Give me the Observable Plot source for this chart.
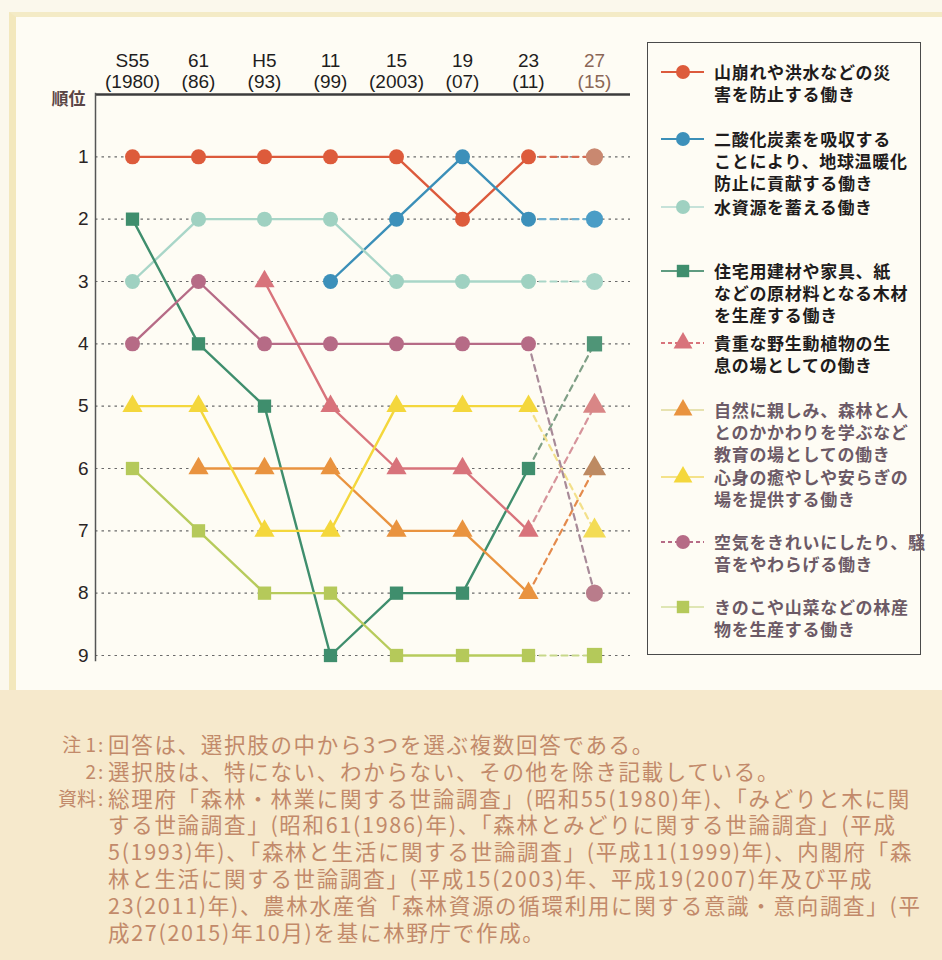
<!DOCTYPE html>
<html><head><meta charset="utf-8">
<script src="https://cdn.jsdelivr.net/npm/d3@7"></script>
<script src="https://cdn.jsdelivr.net/npm/@observablehq/plot@0.6"></script>
<style>
html,body{margin:0;padding:0;}
body{width:942px;height:960px;overflow:hidden;position:relative;background:#fbf8ec;font-family:"Noto Sans CJK JP",sans-serif;}
#panel{position:absolute;left:9px;top:12px;width:940px;height:678px;background:#fefcf4;border-left:7px solid #f3e8bd;border-top:5px solid #f4ebc6;box-sizing:border-box;}
#bottom{position:absolute;left:0;top:690px;width:942px;height:270px;background:#f6e9cc;}
#chart{position:absolute;left:0;top:0;}
#legend{position:absolute;left:647px;top:42px;width:274px;height:613px;border:1.6px solid #4a4a4a;box-sizing:border-box;}
.item{position:absolute;left:0;width:270px;}
.item svg{position:absolute;left:10px;top:0;}
.item .txt{position:absolute;left:66px;top:0;font-size:17px;font-weight:700;line-height:22px;white-space:pre;letter-spacing:0.7px;}
#notes{position:absolute;left:0;top:731px;width:942px;color:#c28a6a;font-size:21.5px;line-height:26.8px;white-space:nowrap;}
.row{position:relative;height:26.8px;line-height:26.8px;}
.lab{position:absolute;left:58px;width:38px;text-align:right;font-size:19px;}
.col{position:absolute;left:98px;font-size:19px;}
.body{position:absolute;left:108px;letter-spacing:1.7px;}
</style>
</head><body>
<div id="panel"></div>
<div id="bottom"></div>
<div id="chart"></div>
<div id="legend"></div>
<div id="notes"></div>
<script>
// ---- data ----
const yearTop = ["S55","61","H5","11","15","19","23","27"];
const yearBottom = ["(1980)","(86)","(93)","(99)","(2003)","(07)","(11)","(15)"];
const ranks = [1,2,3,4,5,6,7,8,9];

const seriesKeys = ["disaster","co2","water","timber","wildlife","education","healing","air","products"];
const seriesLabels = [
  "山崩れや洪水などの災\n害を防止する働き",
  "二酸化炭素を吸収する\nことにより、地球温暖化\n防止に貢献する働き",
  "水資源を蓄える働き",
  "住宅用建材や家具、紙\nなどの原材料となる木材\nを生産する働き",
  "貴重な野生動植物の生\n息の場としての働き",
  "自然に親しみ、森林と人\nとのかかわりを学ぶなど\n教育の場としての働き",
  "心身の癒やしや安らぎの\n場を提供する働き",
  "空気をきれいにしたり、騒\n音をやわらげる働き",
  "きのこや山菜などの林産\n物を生産する働き"
];
const rankDisaster = [1,1,1,1,1,2,1,1];
const rankCO2 = [null,null,null,3,2,1,2,2];
const rankWater = [3,2,2,2,3,3,3,3];
const rankTimber = [2,4,5,9,8,8,6,4];
const rankWildlife = [null,null,3,5,6,6,7,5];
const rankEducation = [null,6,6,6,7,7,8,6];
const rankHealing = [5,5,7,7,5,5,5,7];
const rankAir = [4,3,4,4,4,4,4,8];
const rankProducts = [6,7,8,8,9,9,9,9];
const seriesRanks = [rankDisaster,rankCO2,rankWater,rankTimber,rankWildlife,rankEducation,rankHealing,rankAir,rankProducts];

const notes = [
  ["注 1",":","回答は、選択肢の中から3つを選ぶ複数回答である。"],
  ["2",":","選択肢は、特にない、わからない、その他を除き記載している。"],
  ["資料",":","総理府「森林・林業に関する世論調査」(昭和55(1980)年)、「みどりと木に関"],
  ["","","する世論調査」(昭和61(1986)年)、「森林とみどりに関する世論調査」(平成"],
  ["","","5(1993)年)、「森林と生活に関する世論調査」(平成11(1999)年)、内閣府「森"],
  ["","","林と生活に関する世論調査」(平成15(2003)年、平成19(2007)年及び平成"],
  ["","","23(2011)年)、農林水産省「森林資源の循環利用に関する意識・意向調査」(平"],
  ["","","成27(2015)年10月)を基に林野庁で作成。"]
];

// ---- styles ----
const lineColor = ["#dc5a3c","#3b8fb8","#a9d6c8","#3f8e6d","#d8737b","#e9933f","#f4d73c","#b66b86","#b7cb5c"];
const markColor = ["#dd5b3b","#3c90ba","#9fd1c1","#3f8e6d","#d8737b","#e9933f","#f4d73c","#b66b86","#b5c95a"];
const mark2015 = ["#c98870","#4a9dc6","#a6d4c6","#4f9577","#d98686","#bd8a62","#f3dc55","#b97c8b","#b4c95a"];
const dashColor = ["#d86a50","#6fb0d0","#a9d6c8","#7f9f86","#d6939a","#e48a4c","#f3e08a","#a88a98","#c7d88a"];
const symbols = ["circle","circle","circle","square","triangle","triangle","triangle","circle","square"];
const legendDash = [null,null,null,null,"4,3",null,null,"4,3",null];
const legendLineColor = ["#dc5a3c","#3b8fb8","#c6e2d9","#5f9b80","#d8737b","#e7e2b0","#f4e28a","#b66b86","#dfe6b4"];
const legendTextColor = ["#1f1c1c","#1f1c1c","#1f1c1c","#1f1c1c","#1f1c1c","#6c5a66","#6c5a66","#6c5a66","#6c5a66"];
const legendCenters = [73,140,208,272,344,411,478,543,608];

// ---- table ----
const rows = [];
seriesKeys.forEach((k, s) => {
  seriesRanks[s].forEach((r, i) => {
    if (r != null) rows.push({series: k, s, i, year: yearTop[i], rank: r});
  });
});
const solid = rows.filter(d => d.i <= 6);
const dashed = rows.filter(d => d.i >= 6);

const chart = Plot.plot({
  width: 942,
  height: 690,
  marginLeft: 95,
  marginRight: 312,
  marginTop: 93,
  marginBottom: 30,
  style: {background: "transparent", fontFamily: "'Liberation Sans', Arial, sans-serif"},
  x: {type: "point", domain: yearTop, range: [129, 597], padding: 0, axis: null},
  y: {domain: [0, 9], range: [94, 655], axis: null},
  color: {type: "identity"},
  symbol: {domain: seriesKeys, range: symbols},
  marks: [
    Plot.ruleY(ranks, {stroke: "#6a6a6a", strokeWidth: 1.2, strokeDasharray: "2.5,4"}),
    Plot.ruleY([0], {stroke: "#3c3c3c", strokeWidth: 2.6}),
    Plot.frame({anchor: "left", stroke: "#555", strokeWidth: 1.5}),
    Plot.axisY(ranks, {tickSize: 0, tickPadding: 7, fontSize: 19, tickFormat: "d", fill: "#2a2424", label: null}),
    Plot.text(yearTop.slice(0, 7), {x: d => d, text: (d, i) => d + "\n" + yearBottom[i], frameAnchor: "top", lineAnchor: "bottom", dy: -6, fontSize: 19, lineHeight: 1.08, fill: "#1e1e1e"}),
    Plot.text(yearTop.slice(7), {x: d => d, text: (d, i) => d + "\n" + yearBottom[7 + i], frameAnchor: "top", lineAnchor: "bottom", dy: -6, fontSize: 19, lineHeight: 1.08, fill: "#8a6656"}),
    Plot.text(["順位"], {frameAnchor: "top-left", textAnchor: "middle", lineAnchor: "middle", dx: -27, dy: 6, fontSize: 17, fontWeight: "bold", fill: "#5a4545", fontFamily: "'Noto Sans CJK JP', sans-serif"}),
    Plot.line(dashed, {x: "year", y: "rank", z: "series", stroke: d => dashColor[d.s], strokeWidth: 2.2, strokeDasharray: "6,5"}),
    Plot.line(solid, {x: "year", y: "rank", z: "series", stroke: d => lineColor[d.s], strokeWidth: 2.4}),
    Plot.dot(solid, {x: "year", y: "rank", symbol: "series", fill: d => markColor[d.s], r: 7.5}),
    Plot.dot(rows.filter(d => d.i === 7), {x: "year", y: "rank", symbol: "series", fill: d => mark2015[d.s], r: 8.6})
  ]
});
document.getElementById("chart").appendChild(chart);

// ---- legend ----
const legend = d3.select("#legend");
const symType = {circle: d3.symbolCircle, square: d3.symbolSquare, triangle: d3.symbolTriangle};
seriesKeys.forEach((k, s) => {
  const item = legend.append("div").attr("class", "item").style("top", (legendCenters[s] - 42 - 11 - 1.6) + "px");
  const svg = item.append("svg").attr("width", 52).attr("height", 22);
  svg.append("line").attr("x1", 3).attr("x2", 46).attr("y1", 11).attr("y2", 11)
    .attr("stroke", legendLineColor[s]).attr("stroke-width", 2.2)
    .attr("stroke-dasharray", legendDash[s]);
  svg.append("path").attr("transform", "translate(25,11)")
    .attr("d", d3.symbol(symType[symbols[s]], Math.PI * 7 * 7)())
    .attr("fill", markColor[s]);
  item.append("div").attr("class", "txt").style("color", legendTextColor[s]).text(seriesLabels[s]);
});

// ---- notes ----
const nb = d3.select("#notes");
notes.forEach(n => {
  const r = nb.append("div").attr("class", "row");
  r.append("span").attr("class", "lab").text(n[0]);
  r.append("span").attr("class", "col").text(n[1]);
  r.append("span").attr("class", "body").text(n[2]);
});
</script>
</body></html>
